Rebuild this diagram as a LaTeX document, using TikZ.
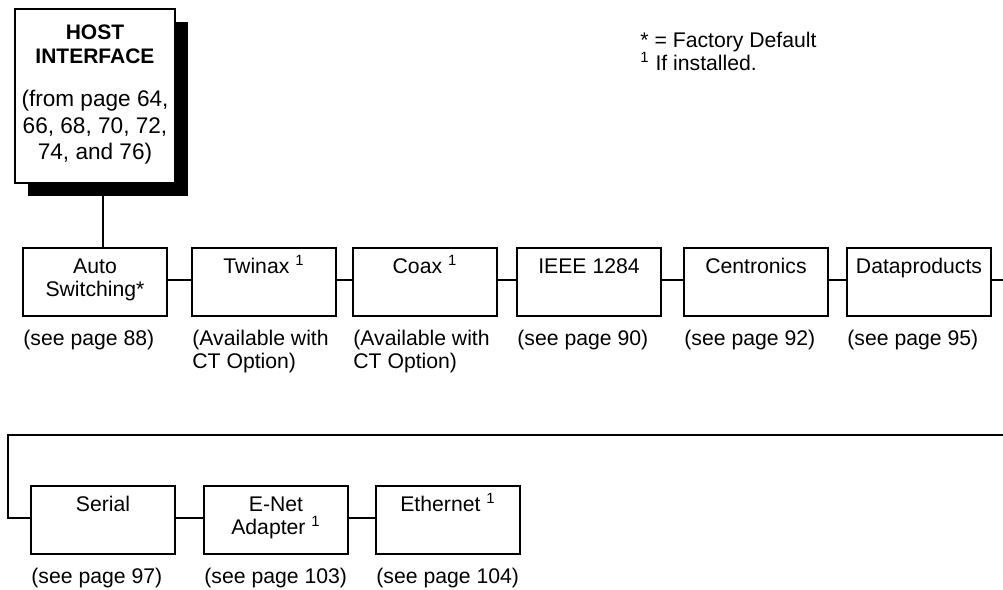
\documentclass[tikz,border=0pt]{standalone}
\usepackage{fontspec}
\setmainfont{Liberation Sans}
\newcommand{\bstr}{\rule{0pt}{12.5pt}}
\newcommand{\lstr}{\rule{0pt}{14.5pt}}
\newcommand{\sone}{\textsuperscript{1}}
\tikzset{
  box/.style={draw, line width=1pt, fill=white, minimum width=72pt, minimum height=34pt, inner sep=0pt, outer sep=0pt, anchor=north west},
  hostbox/.style={draw, line width=1pt, fill=white, minimum width=80pt, minimum height=87pt, inner sep=0pt, outer sep=0pt, anchor=north west},
  shadowbox/.style={fill=black, minimum width=80pt, minimum height=87pt, inner sep=0pt, outer sep=0pt, anchor=north west},
  btxt/.style={inner sep=0pt, anchor=north, align=center, font=\fontsize{10.6}{11.5}\selectfont},
  ltxt/.style={inner sep=0pt, anchor=north west, align=left, font=\fontsize{10.6}{11.5}\selectfont},
  conn/.style={line width=1pt},
}
\begin{document}
\begin{tikzpicture}[x=0.5pt,y=-0.5pt]
\useasboundingbox (0,0) rectangle (1003,590);
% host
\node[shadowbox] (hostshadow) at (28,22) {};
\node[hostbox] (host) at (15,9) {};
\node[inner sep=0pt, anchor=north, align=center, font=\fontsize{10.5}{12}\selectfont\bfseries] (hosttitle) at (host.north) {\rule{0pt}{15pt}HOST\\INTERFACE};
\node[inner sep=0pt, anchor=north, align=center, font=\fontsize{11.3}{13.3}\selectfont] (hostbody) at ([yshift=-36pt]host.north) {\rule{0pt}{12.5pt}(from page 64,\\66, 68, 70, 72,\\74, and 76)};
% footnotes
\node[ltxt, font=\fontsize{10.6}{11.5}\selectfont] (foot) at (640,24) {\rule{0pt}{11.5pt}* = Factory Default\\\sone{} If installed.};
% row 1
\node[box] (auto) at (23,248) {};
\node[box] (twinax) at (192,248) {};
\node[box] (coax) at (353,248) {};
\node[box] (ieee) at (517,248) {};
\node[box] (centr) at (684,248) {};
\node[box] (datap) at (847,248) {};
\node[btxt] (autot) at (auto.north) {\bstr Auto\\Switching*};
\node[btxt] (twinaxt) at (twinax.north) {\bstr Twinax \sone};
\node[btxt] (coaxt) at (coax.north) {\bstr Coax \sone};
\node[btxt] (ieeet) at (ieee.north) {\bstr IEEE 1284};
\node[btxt] (centrt) at (centr.north) {\bstr Centronics};
\node[btxt] (datapt) at (datap.north) {\bstr Dataproducts};
\node[ltxt] (autol) at (auto.south west) {\lstr(see page 88)};
\node[ltxt] (twinaxl) at (twinax.south west) {\lstr(Available with\\CT Option)};
\node[ltxt] (coaxl) at (coax.south west) {\lstr(Available with\\CT Option)};
\node[ltxt] (ieeel) at (ieee.south west) {\lstr(see page 90)};
\node[ltxt] (centrl) at (centr.south west) {\lstr(see page 92)};
\node[ltxt] (datapl) at (datap.south west) {\lstr(see page 95)};
% row 2
\node[box] (serial) at (31,486) {};
\node[box] (enet) at (204,486) {};
\node[box] (ether) at (376,486) {};
\node[btxt] (serialt) at (serial.north) {\bstr Serial};
\node[btxt] (enett) at (enet.north) {\bstr E-Net\\Adapter \sone};
\node[btxt] (ethert) at (ether.north) {\bstr Ethernet \sone};
\node[ltxt] (seriall) at (serial.south west) {\lstr(see page 97)};
\node[ltxt] (enetl) at (enet.south west) {\lstr(see page 103)};
\node[ltxt] (etherl) at (ether.south west) {\lstr(see page 104)};
% connectors
\coordinate (hx) at (103,0);
\coordinate (r1) at (1003,280);
\coordinate (r2) at (1003,435);
\coordinate (l2) at (8,435);
\draw[conn] (hostshadow.south -| hx) -- (auto.north -| hx);
\draw[conn] ([yshift=1pt]auto.east) -- ([yshift=1pt]twinax.west);
\draw[conn] ([yshift=1pt]twinax.east) -- ([yshift=1pt]coax.west);
\draw[conn] ([yshift=1pt]coax.east) -- ([yshift=1pt]ieee.west);
\draw[conn] ([yshift=1pt]ieee.east) -- ([yshift=1pt]centr.west);
\draw[conn] ([yshift=1pt]centr.east) -- ([yshift=1pt]datap.west);
\draw[conn] ([yshift=1pt]datap.east) -- (r1);
\draw[conn] (r2) -- (l2) |- ([yshift=1pt]serial.west);
\draw[conn] ([yshift=1pt]serial.east) -- ([yshift=1pt]enet.west);
\draw[conn] ([yshift=1pt]enet.east) -- ([yshift=1pt]ether.west);
\end{tikzpicture}
\end{document}
